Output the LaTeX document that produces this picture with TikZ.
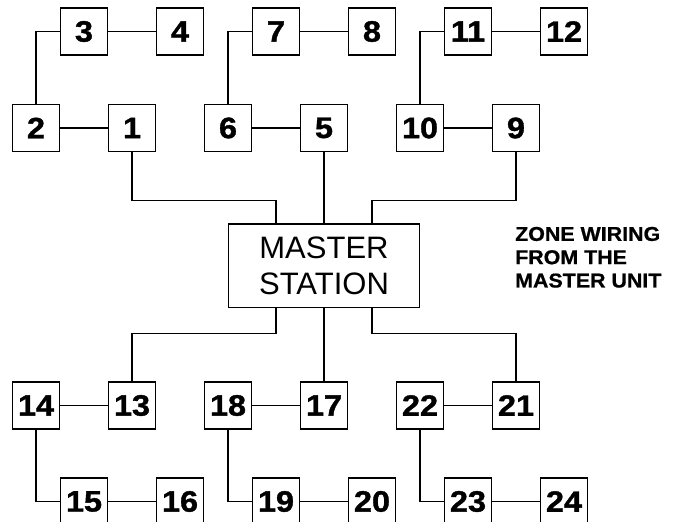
\documentclass[tikz,border=0pt]{standalone}
\usepackage{fontspec}
\setmainfont{Liberation Sans}
\newfontfamily\zonefont[FakeStretch=1.1, BoldFeatures={FakeBold=1.2}]{Liberation Sans}
\newfontfamily\notefont[FakeStretch=1.07, BoldFeatures={FakeBold=0.8}]{Liberation Sans}
\tikzset{
  zonebox/.style={draw, line width=1.3pt, minimum width=47pt, minimum height=47pt,
    inner sep=0pt, font=\zonefont\bfseries\fontsize{29.5}{29.5}\selectfont},
  masterbox/.style={draw, line width=1.3pt, minimum width=191pt, minimum height=83.5pt,
    inner sep=0pt, align=center, font=\fontsize{31}{36.7}\selectfont},
  wire/.style={line width=1.3pt}
}
\begin{document}
\begin{tikzpicture}[x=1pt, y=-1pt]
\useasboundingbox (0,0) rectangle (675,522);
\clip (0,0) rectangle (675,522);
% zones above the master
\foreach \n/\x/\y in {3/84/31.5, 4/180/31.5, 7/276/31.5, 8/372/31.5, 11/468/31.5, 12/564/31.5,
  2/36/128, 1/132/128, 6/228/128, 5/324/128, 10/420/128, 9/516/128}
  \node[zonebox] (z\n) at (\x,\y) {\n};
% zones below the master
\foreach \n/\x/\y in {14/36/405.5, 13/132/405.5, 18/228/405.5, 17/324/405.5, 22/420/405.5, 21/516/405.5,
  15/84/501.5, 16/180/501.5, 19/276/501.5, 20/372/501.5, 23/468/501.5, 24/564/501.5}
  \node[zonebox] (z\n) at (\x,\y) {\n};
\node[masterbox] (master) at (324,265.8) {MASTER\\STATION};
\node[anchor=north west, inner sep=0pt, align=left,
  font=\notefont\bfseries\fontsize{20}{23.3}\selectfont] (note) at (515,226.7)
  {ZONE WIRING\\FROM THE\\MASTER UNIT};

% upper wiring
\draw[wire] (z2.north) |- (z3.west);
\draw[wire] (z3) -- (z4);
\draw[wire] (z2) -- (z1);
\draw[wire] (z6.north) |- (z7.west);
\draw[wire] (z7) -- (z8);
\draw[wire] (z6) -- (z5);
\draw[wire] (z10.north) |- (z11.west);
\draw[wire] (z11) -- (z12);
\draw[wire] (z10) -- (z9);
\draw[wire] (z1.south) -- ++(0,48.5) -| ([xshift=-48pt]master.north);
\draw[wire] (z5.south) -- (master.north);
\draw[wire] (z9.south) -- ++(0,48.5) -| ([xshift=48pt]master.north);

% lower wiring
\draw[wire] ([xshift=-48pt]master.south) -- ++(0,25.5) -| (z13.north);
\draw[wire] (master.south) -- (z17.north);
\draw[wire] ([xshift=48pt]master.south) -- ++(0,25.5) -| (z21.north);
\draw[wire] (z14) -- (z13);
\draw[wire] (z14.south) |- (z15.west);
\draw[wire] (z15) -- (z16);
\draw[wire] (z18) -- (z17);
\draw[wire] (z18.south) |- (z19.west);
\draw[wire] (z19) -- (z20);
\draw[wire] (z22) -- (z21);
\draw[wire] (z22.south) |- (z23.west);
\draw[wire] (z23) -- (z24);
\end{tikzpicture}
\end{document}
